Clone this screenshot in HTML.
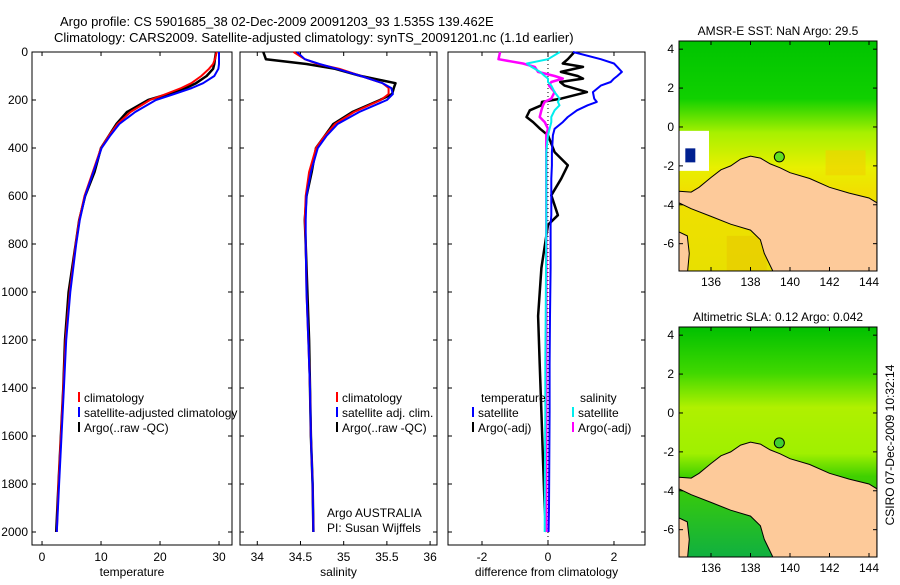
<!DOCTYPE html>
<html><head><meta charset="utf-8"><style>
body{margin:0;background:#fff}
svg text{font-family:"Liberation Sans",sans-serif;font-size:12px;fill:#000}
</style></head><body>
<svg id="s" width="900" height="580" xmlns="http://www.w3.org/2000/svg">
<text x="60" y="26" style="font-size:13px">Argo profile: CS 5901685_38 02-Dec-2009 20091203_93 1.535S 139.462E</text>
<text x="54" y="42" style="font-size:13px">Climatology: CARS2009. Satellite-adjusted climatology: synTS_20091201.nc (1.1d earlier)</text>
<g id="maps"></g>
<g id="panels"></g>
<text transform="translate(894,445) rotate(-90)" text-anchor="middle">CSIRO 07-Dec-2009 10:32:14</text>
</svg>
<script>
// depth grid (m)
const depths=[0,30,50,70,100,130,150,175,200,250,300,350,400,500,600,700,800,1000,1200,1400,1600,1800,2000];
const tempClim=[29.6,29.3,29.0,28.3,27.0,25.3,23.6,21.0,18.3,15.0,12.8,11.3,10.0,8.6,7.2,6.3,5.7,4.7,4.0,3.6,3.2,2.8,2.5];
const tempSat =[30.0,30.0,30.0,29.9,29.2,27.3,25.4,22.4,19.3,15.8,13.1,11.5,10.1,8.7,7.3,6.4,5.8,4.8,4.1,3.7,3.3,2.9,2.5];
const tempArgo=[29.5,29.3,29.2,29.0,27.9,26.1,24.4,21.4,18.0,14.4,12.6,11.3,10.0,8.9,7.3,6.3,5.7,4.5,3.9,3.6,3.2,2.8,2.4];
const salClim=[34.42,34.55,34.7,34.95,35.2,35.45,35.52,35.52,35.43,35.12,34.9,34.78,34.68,34.6,34.56,34.55,34.56,34.57,34.59,34.61,34.62,34.64,34.65];
const salSat =[34.46,34.55,34.72,34.92,35.2,35.45,35.55,35.57,35.5,35.18,34.93,34.8,34.7,34.62,34.57,34.56,34.56,34.57,34.59,34.61,34.62,34.64,34.65];
const salArgo=[34.07,34.1,34.57,34.9,35.2,35.6,35.58,35.56,35.42,35.1,34.88,34.78,34.68,34.63,34.57,34.55,34.56,34.58,34.6,34.61,34.62,34.64,34.65];
// differences from climatology
const dDepths=[0,30,48,62,83,100,111,125,140,167,194,208,222,243,271,292,320,347,417,472,528,597,680,720,900,1100,1300,1500,1700,1900,2000];
const dTempSat =[0.76,1.6,2.0,2.1,2.24,2.1,2.0,1.9,1.6,1.36,1.4,1.48,1.2,0.88,0.6,0.45,0.2,0.15,0.12,0.12,0.1,0.1,0.1,0.08,0.08,0.06,0.05,0.05,0.04,0.03,0.02];
const dTempArgo=[0.8,0.6,0.45,1.06,0.39,0.9,1.06,0.37,0.5,1.18,0.4,-0.18,-0.2,-0.55,-0.65,-0.45,-0.24,0.0,0.2,0.6,0.4,0.1,0.3,0.0,-0.2,-0.3,-0.25,-0.2,-0.15,-0.1,-0.05];
const dSalSat  =[0.36,0.0,-0.64,-0.5,-0.24,-0.1,0.0,0.0,0.1,0.2,0.35,0.3,0.35,0.2,0.1,0.1,0.05,0.0,-0.05,-0.05,-0.05,-0.05,-0.05,-0.05,-0.06,-0.07,-0.08,-0.08,-0.09,-0.1,-0.1];
const dSalArgo =[-1.45,-1.5,-0.76,-0.4,-0.3,0.2,0.45,0.1,0.03,0.2,0.1,-0.1,-0.15,-0.2,-0.25,-0.1,0.0,-0.05,-0.05,-0.05,-0.05,-0.05,-0.05,-0.05,-0.05,-0.05,-0.05,-0.05,-0.05,-0.05,-0.05];
const depthTicks=[0,200,400,600,800,1000,1200,1400,1600,1800,2000];
const tempTicks=[0,10,20,30], salTicks=[34,34.5,35,35.5,36], diffTicks=[-2,0,2];
const lonTicks=[136,138,140,142,144], latTicks=[4,2,0,-2,-4,-6];

const NS='http://www.w3.org/2000/svg';
function mk(t,a,p){const e=document.createElementNS(NS,t);for(const k in a)e.setAttribute(k,a[k]);p.appendChild(e);return e;}
const Y0=52,YS=0.24;
const yD=d=>Y0+d*YS;
const P=document.getElementById('panels');
const panels=[
 {x0:32,x1:232,v0:-1.7,v1:32.2,ticks:tempTicks,lab:'temperature',name:'temperature'},
 {x0:240,x1:437,v0:33.8,v1:36.08,ticks:salTicks,lab:'salinity',name:'salinity'},
 {x0:448,x1:645,v0:-3.03,v1:2.94,ticks:diffTicks,lab:'difference from climatology',name:'difference'}];
panels.forEach((p,i)=>{
 p.sx=v=>p.x0+(v-p.v0)/(p.v1-p.v0)*(p.x1-p.x0);
 const g=mk('g',{},P);
 
 
 mk('rect',{x:p.x0,y:Y0,width:p.x1-p.x0,height:493,fill:'none',stroke:'#000','stroke-width':1},g);
 p.ticks.forEach(t=>{const x=p.sx(t);
  mk('line',{x1:x,x2:x,y1:545,y2:541,stroke:'#000'},g);mk('line',{x1:x,x2:x,y1:52,y2:56,stroke:'#000'},g);
  const tx=mk('text',{x:x,y:561,'text-anchor':'middle'},g);tx.textContent=t;
  
  
 });
 depthTicks.forEach(d=>{const y=yD(d);
  mk('line',{x1:p.x0,x2:p.x0+4,y1:y,y2:y,stroke:'#000'},g);mk('line',{x1:p.x1,x2:p.x1-4,y1:y,y2:y,stroke:'#000'},g);
  if(i==0){const tx=mk('text',{x:28,y:y+4,'text-anchor':'end'},g);tx.textContent=d;
   
   }
 });
 const xl=mk('text',{x:(p.x0+p.x1)/2,y:576,'text-anchor':'middle'},g);xl.textContent=p.lab;
 
 
 p.g=g;
});
function line(p,ds,vals,col,w,name){
 const pts=ds.map((d,k)=>p.sx(vals[k]).toFixed(1)+','+yD(d).toFixed(1)).join(' ');
 const e=mk('polyline',{points:pts,fill:'none',stroke:col,'stroke-width':w,'stroke-linejoin':'round'},p.g);
 
 
}
const [pt,ps,pd]=panels;
line(pt,depths,tempArgo,'#000',2.5,'temp-argo-line');
line(pt,depths,tempClim,'#f00',2,'temp-climatology-line');
line(pt,depths,tempSat,'#00f',2,'temp-satellite-line');
line(ps,depths,salArgo,'#000',2.5,'sal-argo-line');
line(ps,depths,salClim,'#f00',2,'sal-climatology-line');
line(ps,depths,salSat,'#00f',2,'sal-satellite-line');
mk('line',{x1:pd.sx(0),x2:pd.sx(0),y1:52,y2:545,stroke:'#000','stroke-dasharray':'1,3'},pd.g);
line(pd,dDepths,dTempArgo,'#000',2.5,'dtemp-argo-line');
line(pd,dDepths,dTempSat,'#00f',2,'dtemp-satellite-line');
line(pd,dDepths,dSalArgo,'#f0f',2.5,'dsal-argo-line');
line(pd,dDepths,dSalSat,'#0ee',2,'dsal-satellite-line');
function leg(g,x,y,col,txt){
 if(col)mk('line',{x1:x,x2:x,y1:y-10,y2:y,stroke:col,'stroke-width':2},g);
 const t=mk('text',{x:x+(col?5:0),y:y},g);t.textContent=txt;
 
 
}
leg(pt.g,79,402,'#f00','climatology');leg(pt.g,79,417,'#00f','satellite-adjusted climatology');leg(pt.g,79,432,'#000','Argo(..raw -QC)');
leg(ps.g,337,402,'#f00','climatology');leg(ps.g,337,417,'#00f','satellite adj. clim.');leg(ps.g,337,432,'#000','Argo(..raw -QC)');
leg(ps.g,327,517,null,'Argo AUSTRALIA');leg(ps.g,327,532,null,'PI: Susan Wijffels');
leg(pd.g,481,402,null,'temperature');leg(pd.g,473,417,'#00f','satellite');leg(pd.g,473,432,'#000','Argo(-adj)');
leg(pd.g,580,402,null,'salinity');leg(pd.g,573,417,'#0ee','satellite');leg(pd.g,573,432,'#f0f','Argo(-adj)');

// maps
const M=document.getElementById('maps');
const LMAX=144.4;
const northCoast=[[134.38,-3.3],[135,-3.35],[135.4,-3.1],[136,-2.6],[136.5,-2.2],[137,-2.0],[137.5,-1.65],[138,-1.5],[138.5,-1.6],[139,-1.9],[139.5,-2.1],[140,-2.35],[141,-2.65],[142,-3.1],[143,-3.4],[144,-3.65],[LMAX,-3.9]];
const southCoast=[[139.2,-7.55],[138.7,-6.5],[138.5,-5.8],[138,-5.3],[137,-5.0],[136,-4.6],[135,-4.2],[134.38,-3.9]];
function map(y0,title,kind){
 const x0=679,x1=877;
 const sx=l=>x0+(l-134.38)*19.75, sy=a=>y0+(4.42-a)*19.45;
 const y1=y0+230;
 const g=mk('g',{},M);
 
 
 const id='gr'+kind;const df=mk('defs',{},g);
 const clip=mk('clipPath',{id:'cl'+kind},df);mk('rect',{x:x0,y:y0,width:x1-x0,height:230},clip);
 const lg=mk('linearGradient',{id:id,x1:0,y1:0,x2:0,y2:1},df);
 const stops=kind=='sst'?[[0,'#00c400'],[0.25,'#10d000'],[0.4,'#a8f000'],[0.55,'#e8f000'],[0.65,'#f0e000'],[1,'#e8e000']]:[[0,'#00c000'],[0.2,'#40d800'],[0.35,'#b0f000'],[0.55,'#a0f000'],[0.65,'#40d000'],[1,'#10b040']];
 stops.forEach(s=>mk('stop',{offset:s[0],'stop-color':s[1]},lg));
 const cg=mk('g',{'clip-path':'url(#cl'+kind+')'},g);
 mk('rect',{x:x0,y:y0,width:x1-x0,height:230,fill:'url(#'+id+')'},cg);
 if(kind=='sst'){
  mk('rect',{x:sx(136.8),y:sy(-5.6),width:40,height:50,fill:'#e8c800',opacity:0.6},cg);
  mk('rect',{x:sx(141.8),y:sy(-1.2),width:40,height:25,fill:'#f0d000',opacity:0.6},cg);
 }
 const pts=northCoast.concat([[LMAX,-7.6]],southCoast).map(p=>sx(p[0]).toFixed(1)+','+sy(p[1]).toFixed(1)).join(' ');
 const land=mk('polygon',{points:pts,fill:'#fdca9a',stroke:'#000','stroke-width':1},cg);
 
 
 mk('polygon',{points:[[134.38,-5.4],[134.8,-5.6],[134.9,-6.5],[134.8,-7.6],[134.38,-7.6]].map(p=>sx(p[0])+','+sy(p[1])).join(' '),fill:'#fdca9a',stroke:'#000'},cg);
 if(kind=='sst'){mk('rect',{x:sx(134.38),y:sy(-0.2),width:30,height:40,fill:'#fff'},cg);mk('rect',{x:sx(134.7),y:sy(-1.1),width:10,height:14,fill:'#002090'},cg);}
 const c=mk('circle',{cx:sx(139.46),cy:sy(-1.54),r:5,fill:kind=='sst'?'#60e020':'#40d030',stroke:'#000'},g);
 
 
 mk('rect',{x:x0,y:y0,width:x1-x0,height:230,fill:'none',stroke:'#000'},g);
 lonTicks.forEach(l=>{const x=sx(l);mk('line',{x1:x,x2:x,y1:y1,y2:y1-4,stroke:'#000'},g);mk('line',{x1:x,x2:x,y1:y0,y2:y0+4,stroke:'#000'},g);
  const t=mk('text',{x:x,y:y1+15,'text-anchor':'middle'},g);t.textContent=l;
  
  });
 latTicks.forEach(a=>{const y=sy(a);mk('line',{x1:x0,x2:x0+4,y1:y,y2:y,stroke:'#000'},g);mk('line',{x1:x1,x2:x1-4,y1:y,y2:y,stroke:'#000'},g);
  const t=mk('text',{x:x0-5,y:y+4,'text-anchor':'end'},g);t.textContent=a;
  
  });
 const t=mk('text',{x:(x0+x1)/2,y:y0-6,'text-anchor':'middle'},g);t.textContent=title;
 
 
}
map(41,'AMSR-E SST: NaN Argo: 29.5','sst');
map(327,'Altimetric SLA: 0.12 Argo: 0.042','sla');
</script>
</body></html>
